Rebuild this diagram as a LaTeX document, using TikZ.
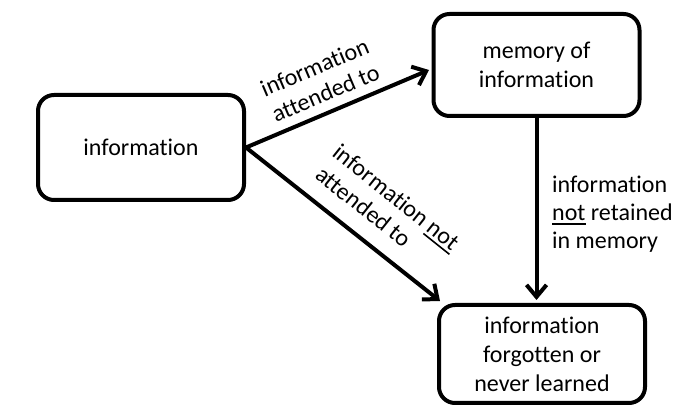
\documentclass[tikz,border=0pt]{standalone}
\usepackage{fontspec}
\setmainfont{Carlito}[Ligatures=NoCommon]
\usetikzlibrary{arrows.meta}
\newcommand\myul[1]{\setbox0\hbox{#1}\rlap{\rule[-4.5pt]{\wd0}{1.6pt}}\box0\relax}
\begin{document}
\begin{tikzpicture}[x=1pt,y=-1pt,
  box/.style={draw, line width=4pt, rounded corners=16pt, minimum width=206pt,
    align=center, inner sep=0pt, font=\fontsize{24}{29}\selectfont},
  lbl/.style={inner sep=0pt, font=\fontsize{24}{28}\selectfont},
  arr/.style={line width=4pt, -{Straight Barb[length=12pt,width=20pt]}}]
\useasboundingbox (0,0) rectangle (680,411);
\node[box, minimum height=105pt] (info) at (141,147.5) {information};
\node[box, minimum height=102pt] (mem) at (536.5,65) {memory of\\information};
\node[box, minimum height=98pt] (forg) at (542,354) {information\\forgotten or\\never learned};
\coordinate (t1) at (429,70);
\coordinate (t2) at (440,301);
\coordinate (t3) at (536.5,300);
\draw[arr] (info.east) -- (t1);
\draw[arr] (info.east) -- (t2);
\draw[arr] (mem.south) -- (t3);
\node[lbl, rotate=23, align=center] (l1) at (320,80) {information\\attended to};
\node[lbl, rotate=-38.6, align=left] (l2) at (388,208) {information \myul{not}\\attended to};
\node[lbl, anchor=west, align=left] (l3) at (552,214) {information\\\myul{not} retained\\in memory};
\end{tikzpicture}
\end{document}
